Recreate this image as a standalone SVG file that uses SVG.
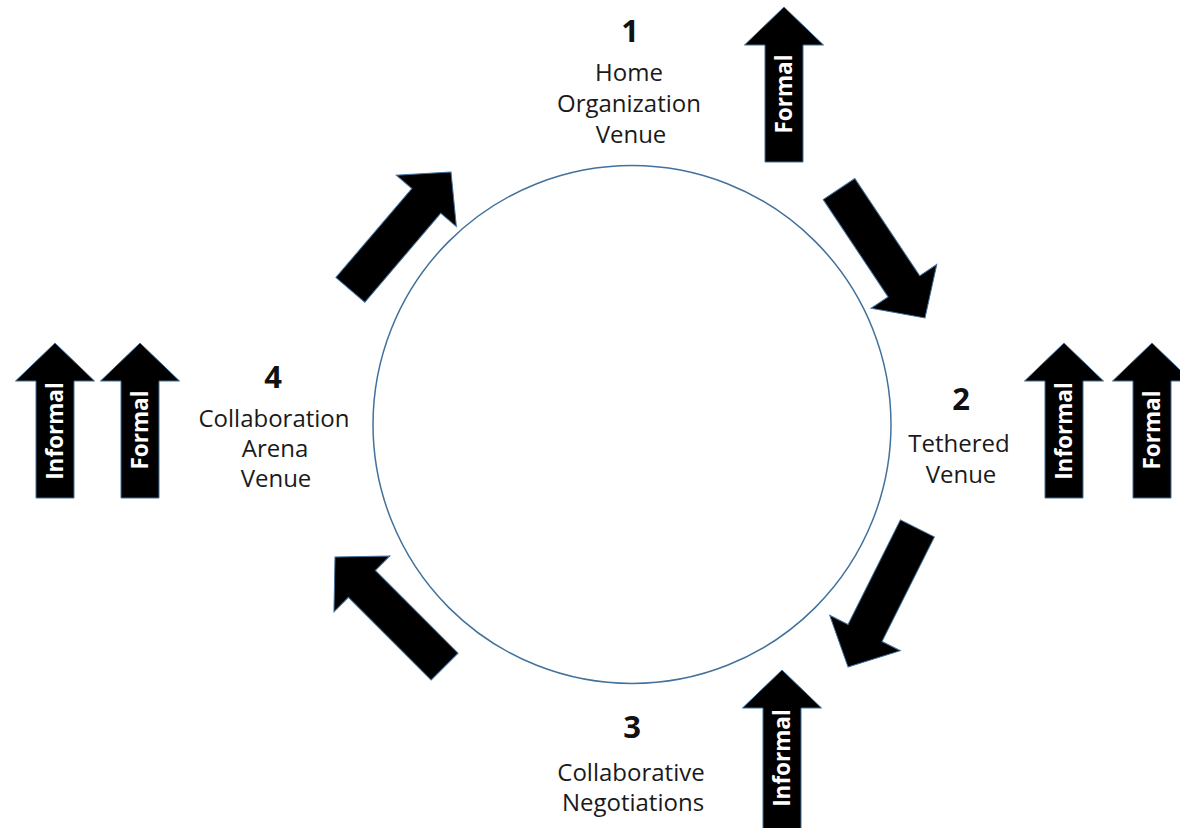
<svg xmlns="http://www.w3.org/2000/svg" xmlns:xlink="http://www.w3.org/1999/xlink" width="1180" height="828" viewBox="0 0 1180 828">
<style>
.arr{fill:#000;stroke:#41719c;stroke-width:1;stroke-linejoin:miter}
.lbl{font-family:"Open Sans","DejaVu Sans",sans-serif;font-size:24px;fill:#1a1a1a;text-anchor:middle}
.num{font-family:"Open Sans","DejaVu Sans",sans-serif;font-size:31px;font-weight:bold;fill:#111;text-anchor:middle}
.atx{font-family:"Open Sans","Liberation Sans",sans-serif;font-size:22.5px;font-weight:bold;fill:#fff;text-anchor:middle}
</style>
<defs>
<path id="arrow" class="arr" d="M0,0 L-38,-39.5 L-38,-19 L-155,-19 L-155,19 L-38,19 L-38,39.5 Z"/>
<path id="arrowLong" class="arr" d="M0,0 L-38,-39.5 L-38,-19 L-170,-19 L-170,19 L-38,19 L-38,39.5 Z"/>
</defs>
<rect width="1180" height="828" fill="#fff"/>

<g id="cycle">
<circle cx="632" cy="424.5" r="259" fill="none" stroke="#41719c" stroke-width="1.5"/>
</g>

<g id="connectors">
<use xlink:href="#arrow" transform="translate(451,172) rotate(-49.5)"/>
<use xlink:href="#arrow" transform="translate(925,318) rotate(56.3)"/>
<use xlink:href="#arrow" transform="translate(848,667) rotate(116.6)"/>
<use xlink:href="#arrow" transform="translate(335,557) rotate(-135)"/>
</g>

<g id="venue1">
<text class="num" x="630" y="42">1</text>
<text class="lbl" x="629" y="81">Home</text>
<text class="lbl" x="629" y="112">Organization</text>
<text class="lbl" x="631" y="143">Venue</text>
</g>

<g id="venue2">
<text class="num" x="961" y="410">2</text>
<text class="lbl" x="959" y="452">Tethered</text>
<text class="lbl" x="961" y="483">Venue</text>
</g>

<g id="venue3">
<text class="num" x="632" y="738">3</text>
<text class="lbl" x="631" y="781">Collaborative</text>
<text class="lbl" x="633" y="811">Negotiations</text>
</g>

<g id="venue4">
<text class="num" x="273" y="388">4</text>
<text class="lbl" x="274" y="427">Collaboration</text>
<text class="lbl" x="275" y="457">Arena</text>
<text class="lbl" x="276" y="487">Venue</text>
</g>

<g id="top-formal">
<use xlink:href="#arrow" transform="translate(784,7) rotate(-90)"/>
<text class="atx" transform="translate(784,94) rotate(-90)" y="8">Formal</text>
</g>

<g id="left-informal">
<use xlink:href="#arrow" transform="translate(55,343) rotate(-90)"/>
<text class="atx" transform="translate(55,431) rotate(-90)" y="8">Informal</text>
</g>
<g id="left-formal">
<use xlink:href="#arrow" transform="translate(140,343) rotate(-90)"/>
<text class="atx" transform="translate(140,430) rotate(-90)" y="8">Formal</text>
</g>

<g id="right-informal">
<use xlink:href="#arrow" transform="translate(1064,343) rotate(-90)"/>
<text class="atx" transform="translate(1064,431) rotate(-90)" y="8">Informal</text>
</g>
<g id="right-formal">
<use xlink:href="#arrow" transform="translate(1152,343) rotate(-90)"/>
<text class="atx" transform="translate(1152,430) rotate(-90)" y="8">Formal</text>
</g>

<g id="bottom-informal">
<use xlink:href="#arrowLong" transform="translate(782,670) rotate(-90)"/>
<text class="atx" transform="translate(782,758) rotate(-90)" y="8">Informal</text>
</g>
</svg>
